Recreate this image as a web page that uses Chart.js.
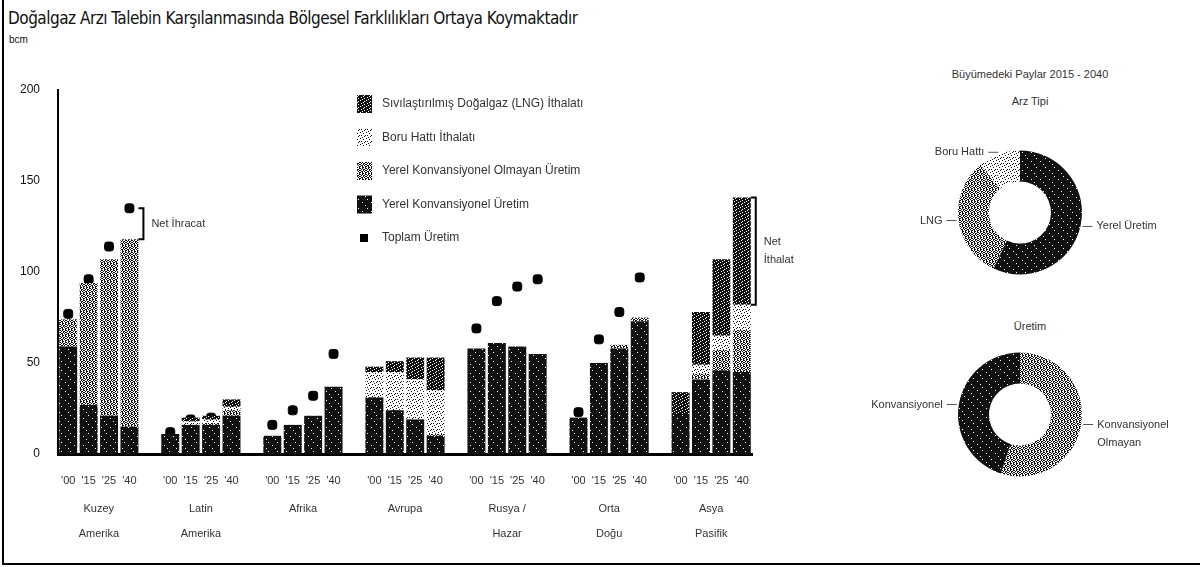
<!DOCTYPE html>
<html lang="tr">
<head>
<meta charset="utf-8">
<script src="https://cdn.jsdelivr.net/npm/chart.js@4.4.1/dist/chart.umd.min.js"></script>
<style>
  body { margin:0; width:1200px; height:567px; position:relative; background:#fff; overflow:hidden; font-family:'Liberation Sans', Arial, sans-serif; color:#111; }
  .cerceve { position:absolute; left:2px; top:0; width:1196px; height:563px; border-left:2px solid #000; border-bottom:2px solid #000; }
  .baslik { position:absolute; left:8px; top:8px; font-size:17px; font-family:'Liberation Sans Narrow','DejaVu Sans Condensed','Liberation Sans',sans-serif; letter-spacing:-0.5px; white-space:nowrap; }
  .birim { position:absolute; left:9px; top:34px; font-size:10px; }
  #anaKutu { position:absolute; left:0; top:0; width:820px; height:567px; }
  .pbaslik { position:absolute; left:880px; width:300px; text-align:center; font-size:11px; color:#333; }
  #arzKutu { position:absolute; left:840px; top:130px; width:360px; height:165px; }
  #uretimKutu { position:absolute; left:840px; top:332px; width:360px; height:165px; }
</style>
</head>
<body>
<div class="cerceve"></div>
<div class="baslik">Doğalgaz Arzı Talebin Karşılanmasında Bölgesel Farklılıkları Ortaya Koymaktadır</div>
<div class="birim">bcm</div>
<div id="anaKutu"><canvas id="anaGrafik"></canvas></div>
<div class="pbaslik" style="top:68px">Büyümedeki Paylar 2015 - 2040</div>
<div class="pbaslik" style="top:95px">Arz Tipi</div>
<div class="pbaslik" style="top:320px">Üretim</div>
<div id="arzKutu"><canvas id="arzGrafik"></canvas></div>
<div id="uretimKutu"><canvas id="uretimGrafik"></canvas></div>
<script>
// veriler
const bolgeler = [["Kuzey","Amerika"],["Latin","Amerika"],["Afrika"],["Avrupa"],["Rusya /","Hazar"],["Orta","Doğu"],["Asya","Pasifik"]];
const yillar = ["'00","'15","'25","'40"];
const yerelKonvansiyonel = [[59,27,21,15],[11,16,16,21],[10,16,21,37],[31,24,19,10],[58,61,59,55],[20,50,58,73],[22,41,46,45]];
const yerelKonvOlmayan = [[15,67,86,103],[0,0,1,3],[0,0,0,0],[0,0,0,1],[0,0,0,0],[0,0,2,2],[0,3,11,23]];
const boruHatti = [[0,0,0,0],[0,2,2,2],[0,0,0,0],[14,21,22,24],[0,0,0,0],[0,0,0,0],[0,5,8,14]];
const lngIthalat = [[0,0,0,0],[0,2,2,4],[0,0,0,0],[3,6,12,18],[0,0,0,0],[0,0,0,0],[12,29,42,59]];
const toplamUretim = [[77,96,114,135],[12,19,20,26],[16,24,32,55],[33,26,22,14],[69,84,92,96],[23,63,78,97],[22,44,57,68]];
const seriAdlari = ["Sıvılaştırılmış Doğalgaz (LNG) İthalatı","Boru Hattı İthalatı","Yerel Konvansiyonel Olmayan Üretim","Yerel Konvansiyonel Üretim","Toplam Üretim"];
const yTicks = [0,50,100,150,200];
const arzTipleri = ["Yerel Üretim","LNG","Boru Hattı"];
const arzPaylari = [57,32,11];
const uretimTipleri = [["Konvansiyonel","Olmayan"],"Konvansiyonel"];
const uretimPaylari = [55,45];

// bölgeler arasında boş bir sütun bırak
function yay(seri) {
  const out = [];
  seri.forEach((g, i) => { out.push(...g); if (i < seri.length - 1) out.push(null); });
  return out;
}
const etiketler = yay(bolgeler.map(() => yillar)).map(v => v === null ? "" : v);

// tarama görünümü için desenler
function desen(satirlar) {
  const h = satirlar.length, w = satirlar[0].length;
  const c = document.createElement('canvas'); c.width = w; c.height = h;
  const g = c.getContext('2d');
  g.fillStyle = '#fff'; g.fillRect(0, 0, w, h);
  g.fillStyle = '#111';
  satirlar.forEach((s, y) => { for (let x = 0; x < w; x++) if (s[x] === 'x') g.fillRect(x, y, 1, 1); });
  return g.createPattern(c, 'repeat');
}
const desenKonv = desen(["xxxxxxxxx","xxxxxxx.x","xxxxxxxxx","xxxxxxxxx","xx.xxxxxx","xxxxxxxxx","xxxxxxxxx","xxxxx.xxx","xxxxxxxxx"]);
const desenOrta = desen(["x.x..x",".x.xx.","x..x.x",".xx.x.","x.x..x","..xx.x"]);
const desenAcik = desen(["x.....","...x..","......",".x...x","....x.","..x..."]);
const desenKoyu = desen(["xxx.xx","x.xxxx","xxxx.x","xx.xxx",".xxxxx","xxxx.x"]);
const legendDesen = [desenKoyu, desenAcik, desenOrta, desenKonv];

const barDs = (label, seri, renk) => ({
  type: 'bar', label, data: yay(seri), backgroundColor: renk,
  xAxisID: 'x', yAxisID: 'y', stack: 'arz',
  barPercentage: 0.88, categoryPercentage: 1, order: 0
});

const anaEklenti = {
  id: 'anaEklenti',
  afterDraw(chart) {
    const ctx = chart.ctx;
    ctx.save();
    // lejant
    ctx.font = "12px 'Liberation Sans', Arial, sans-serif";
    ctx.textBaseline = 'middle';
    seriAdlari.forEach((ad, i) => {
      const y = 104 + i * 33.5;
      if (i < 4) {
        ctx.fillStyle = legendDesen[i];
        ctx.fillRect(357, y - 9, 15, 18);
      } else {
        ctx.fillStyle = '#000';
        ctx.fillRect(360, y - 4, 8, 8);
      }
      ctx.fillStyle = '#333';
      ctx.fillText(ad, 382, y);
    });
    // parantezler
    const xs = chart.scales.x, ys = chart.scales.y;
    const bw = xs.width / etiketler.length * 0.88;
    const parantez = (idx, ust, alt, satirlar) => {
      const x = xs.getPixelForValue(idx) + bw / 2 + 5;
      const y1 = ys.getPixelForValue(ust), y2 = ys.getPixelForValue(alt);
      ctx.strokeStyle = '#000'; ctx.lineWidth = 2;
      ctx.beginPath();
      ctx.moveTo(x - 5, y1); ctx.lineTo(x, y1); ctx.lineTo(x, y2); ctx.lineTo(x - 5, y2);
      ctx.stroke();
      ctx.fillStyle = '#333';
      ctx.font = "11px 'Liberation Sans', Arial, sans-serif";
      const orta = (y1 + y2) / 2 - (satirlar.length - 1) * 9;
      satirlar.forEach((s, k) => ctx.fillText(s, x + 8, orta + k * 18));
    };
    const na = yay(toplamUretim)[3];
    const naTalep = yay(yerelKonvansiyonel)[3] + yay(yerelKonvOlmayan)[3];
    parantez(3, na, naTalep, ["Net İhracat"]);
    const son = etiketler.length - 1;
    const asyaUst = yay(yerelKonvansiyonel)[son] + yay(yerelKonvOlmayan)[son] + yay(boruHatti)[son] + yay(lngIthalat)[son];
    const asyaAlt = asyaUst - yay(lngIthalat)[son];
    parantez(son, asyaUst, asyaAlt, ["Net", "İthalat"]);
    ctx.restore();
  }
};

new Chart(document.getElementById('anaGrafik'), {
  type: 'bar',
  data: {
    labels: etiketler,
    datasets: [
      barDs(seriAdlari[3], yerelKonvansiyonel, desenKonv),
      barDs(seriAdlari[2], yerelKonvOlmayan, desenOrta),
      barDs(seriAdlari[1], boruHatti, desenAcik),
      barDs(seriAdlari[0], lngIthalat, desenKoyu),
      {
        type: 'line', label: seriAdlari[4], data: yay(toplamUretim),
        xAxisID: 'x', yAxisID: 'y', stack: 'uretim',
        showLine: false, pointStyle: 'rectRounded', pointRadius: 5.2,
        pointBackgroundColor: '#000', pointBorderColor: '#000', order: 1
      }
    ]
  },
  options: {
    responsive: true, maintainAspectRatio: false, animation: false,
    layout: { padding: { top: 90, right: 68, bottom: 23, left: 0 } },
    plugins: { legend: { display: false }, tooltip: { enabled: false } },
    scales: {
      x: {
        stacked: true, offset: true, weight: 0,
        grid: { display: false, drawTicks: false },
        border: { color: '#000', width: 3 },
        ticks: { autoSkip: false, maxRotation: 0, padding: 20, color: '#333', font: { size: 11, family: "'Liberation Sans', Arial" } },
        afterFit: ax => { ax.height = 30; }
      },
      bolge: {
        type: 'linear', position: 'bottom', weight: 1, bounds: 'data', offset: false,
        min: -0.5, max: etiketler.length - 0.5,
        grid: { display: false, drawTicks: false, offset: false },
        border: { display: false },
        afterBuildTicks: ax => { ax.ticks = bolgeler.map((b, i) => ({ value: i * 5 + 1.5 })); },
        ticks: { autoSkip: false, maxRotation: 0, padding: 12, color: '#333',
          font: { size: 11, family: "'Liberation Sans', Arial", lineHeight: 2.3 },
          callback: (v, i) => bolgeler[i] },
        afterFit: ax => { ax.height = 60; }
      },
      y: {
        stacked: true, min: 0, max: 200,
        grid: { display: false, drawTicks: false },
        border: { color: '#000', width: 2 },
        afterBuildTicks: ax => { ax.ticks = yTicks.map(v => ({ value: v })); },
        ticks: { padding: 18, color: '#111', font: { size: 12, family: "'Liberation Sans', Arial" } },
        afterFit: ax => { ax.width = 58; }
      }
    }
  },
  plugins: [anaEklenti]
});

// halka grafik etiketleri
const halkaEtiket = {
  id: 'halkaEtiket',
  afterDraw(chart) {
    const ctx = chart.ctx;
    ctx.save();
    ctx.font = "11px 'Liberation Sans', Arial, sans-serif";
    ctx.textBaseline = 'middle';
    ctx.fillStyle = '#333'; ctx.strokeStyle = '#555'; ctx.lineWidth = 1;
    chart.getDatasetMeta(0).data.forEach((arc, i) => {
      const p = arc.getProps(['x', 'y', 'startAngle', 'endAngle', 'outerRadius'], true);
      const a = (p.startAngle + p.endAngle) / 2;
      const px = p.x + Math.cos(a) * (p.outerRadius + 2);
      const py = p.y + Math.sin(a) * (p.outerRadius + 2);
      const yon = Math.cos(a) >= 0 ? 1 : -1;
      ctx.beginPath(); ctx.moveTo(px, py); ctx.lineTo(px + yon * 10, py); ctx.stroke();
      ctx.textAlign = yon > 0 ? 'left' : 'right';
      const et = chart.data.labels[i];
      const satirlar = Array.isArray(et) ? et : [et];
      satirlar.forEach((s, k) => ctx.fillText(s, px + yon * 14, py + k * 18));
    });
    ctx.restore();
  }
};

const halka = (id, etiket, veri, renkler) => new Chart(document.getElementById(id), {
  type: 'doughnut',
  data: { labels: etiket, datasets: [{ data: veri, backgroundColor: renkler, borderWidth: 0 }] },
  options: {
    responsive: true, maintainAspectRatio: false, animation: false,
    radius: 62, cutout: '50%',
    plugins: { legend: { display: false }, tooltip: { enabled: false } }
  },
  plugins: [halkaEtiket]
});

halka('arzGrafik', arzTipleri, arzPaylari, [desenKonv, desenOrta, desenAcik]);
halka('uretimGrafik', uretimTipleri, uretimPaylari, [desenOrta, desenKonv]);
</script>
</body>
</html>
